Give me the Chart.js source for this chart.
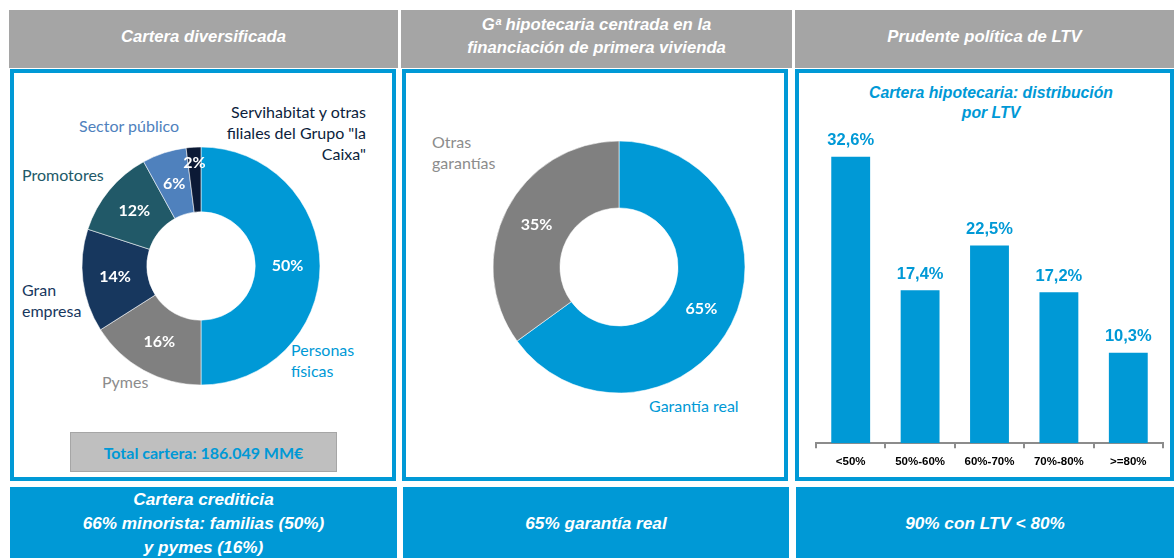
<!DOCTYPE html>
<html>
<head>
<meta charset="utf-8">
<script src="https://cdn.jsdelivr.net/npm/chart.js@4.4.1/dist/chart.umd.min.js"></script>
<style>
  html,body{margin:0;padding:0;background:#fff;}
  body{width:1174px;height:558px;position:relative;overflow:hidden;font-family:"Liberation Sans",Arial,sans-serif;}
  .hdr{position:absolute;top:10px;height:58px;background:#A5A5A5;color:#fff;font-weight:bold;font-style:italic;font-size:16.7px;display:flex;align-items:center;justify-content:center;text-align:center;line-height:23px;box-sizing:border-box;padding-bottom:6px;}
  .box{position:absolute;top:69px;height:412px;border:4px solid #0099D6;box-sizing:border-box;background:#fff;}
  .ftr{position:absolute;top:487px;height:71px;background:#0099D6;color:#fff;font-weight:bold;font-style:italic;font-size:17.2px;display:flex;align-items:center;justify-content:center;text-align:center;line-height:24px;}
  .lbl{position:absolute;font-family:Lato,"Open Sans",sans-serif;font-size:16px;line-height:21px;white-space:nowrap;}
  canvas{position:absolute;}
  .total{position:absolute;left:70px;top:432px;width:267px;height:40px;background:#BFBFBF;border:1px solid #A6A6A6;box-sizing:border-box;color:#0099D6;font-family:Lato,sans-serif;font-weight:bold;font-size:16px;display:flex;align-items:center;justify-content:center;}
  .btitle{position:absolute;left:841px;width:300px;top:83px;text-align:center;color:#0099D6;font-weight:bold;font-style:italic;font-size:15.8px;line-height:20px;}
</style>
</head>
<body>
<div class="hdr" style="left:9px;width:389px;">Cartera diversificada</div>
<div class="hdr" style="left:401px;width:391px;">Gª hipotecaria centrada en la<br>financiación de primera vivienda</div>
<div class="hdr" style="left:795px;width:379px;">Prudente política de LTV</div>

<div class="box" style="left:10px;width:386px;"></div>
<div class="box" style="left:402px;width:386px;"></div>
<div class="box" style="left:795px;width:379px;"></div>

<div class="ftr" style="left:10px;width:387px;">Cartera crediticia<br>66% minorista: familias (50%)<br>y pymes (16%)</div>
<div class="ftr" style="left:403px;width:386px;">65% garantía real</div>
<div class="ftr" style="left:796px;width:378px;">90% con LTV &lt; 80%</div>

<!-- outside labels, panel 1 -->
<div class="lbl" style="left:79px;top:115px;color:#4F81BD;">Sector público</div>
<div class="lbl" style="right:808px;top:101px;color:#0C1E3C;text-align:right;">Servihabitat y otras<br>filiales del Grupo "la<br>Caixa"</div>
<div class="lbl" style="left:22px;top:164px;color:#215968;">Promotores</div>
<div class="lbl" style="left:22px;top:279px;color:#17375E;">Gran<br>empresa</div>
<div class="lbl" style="left:102px;top:371px;color:#8C8C8C;">Pymes</div>
<div class="lbl" style="left:291px;top:339px;color:#0099D6;">Personas<br>físicas</div>
<!-- outside labels, panel 2 -->
<div class="lbl" style="left:432px;top:131px;color:#8C8C8C;">Otras<br>garantías</div>
<div class="lbl" style="left:649px;top:395px;color:#0099D6;">Garantía real</div>

<div class="total">Total cartera: 186.049 MM€</div>
<div class="btitle">Cartera hipotecaria: distribución<br>por LTV</div>

<canvas id="c1" width="260" height="260" style="left:71px;top:136px;"></canvas>
<canvas id="c2" width="270" height="270" style="left:484px;top:132px;"></canvas>
<canvas id="c3" width="379" height="360" style="left:795px;top:120px;"></canvas>

<script>
// ---- data ----
const portfolioCategories = ['Personas físicas','Pymes','Gran empresa','Promotores','Sector público','Servihabitat y otras filiales del Grupo "la Caixa"'];
const portfolioValues = [50, 16, 14, 12, 6, 2];
const guaranteeCategories = ['Garantía real','Otras garantías'];
const guaranteeValues = [65, 35];
const ltvCategories = ['<50%','50%-60%','60%-70%','70%-80%','>=80%'];
const ltvValues = [32.6, 17.4, 22.5, 17.2, 10.3];

// ---- styles ----
const BLUE = '#0099D6';
const portfolioColors = ['#0099D6','#808080','#17375E','#215968','#4F81BD','#0C1A36'];
const guaranteeColors = ['#0099D6','#808080'];

const arcLabels = {
  id: 'arcLabels',
  afterDatasetsDraw(chart, args, opts) {
    const ctx = chart.ctx;
    const meta = chart.getDatasetMeta(0);
    const data = chart.data.datasets[0].data;
    ctx.save();
    ctx.font = opts.font;
    ctx.fillStyle = opts.color;
    ctx.textAlign = 'center';
    ctx.textBaseline = 'middle';
    meta.data.forEach((arc, i) => {
      let p = arc.tooltipPosition();
      const rf = (opts.radial || {})[i];
      if (rf) {
        const ang = (arc.startAngle + arc.endAngle) / 2;
        const r = arc.outerRadius * rf;
        p = { x: arc.x + Math.cos(ang) * r, y: arc.y + Math.sin(ang) * r };
      }
      ctx.fillText(data[i] + '%', p.x, p.y);
    });
    ctx.restore();
  }
};

function doughnut(id, labels, values, colors, radius, cutout, radial) {
  return new Chart(document.getElementById(id), {
    type: 'doughnut',
    data: { labels, datasets: [{ data: values, backgroundColor: colors, borderColor: 'rgba(255,255,255,0.55)', borderWidth: 1, radius, cutout }] },
    options: {
      responsive: false, animation: false, events: [],
      plugins: { legend: { display: false }, tooltip: { enabled: false },
        arcLabels: { font: 'bold 16px Lato, "Open Sans", sans-serif', color: '#fff', radial } }
    },
    plugins: [arcLabels]
  });
}

doughnut('c1', portfolioCategories, portfolioValues, portfolioColors, 119, 59, { 5: 0.87 });
doughnut('c2', guaranteeCategories, guaranteeValues, guaranteeColors, 126, 63, {});

const barLabels = {
  id: 'barLabels',
  afterDatasetsDraw(chart, args, opts) {
    const ctx = chart.ctx;
    const meta = chart.getDatasetMeta(0);
    const data = chart.data.datasets[0].data;
    ctx.save();
    ctx.font = opts.font;
    ctx.fillStyle = opts.color;
    ctx.textAlign = 'center';
    ctx.textBaseline = 'middle';
    meta.data.forEach((bar, i) => {
      ctx.fillText(data[i].toFixed(1).replace('.', ',') + '%', bar.x, bar.y - opts.offset);
    });
    ctx.restore();
  }
};

new Chart(document.getElementById('c3'), {
  type: 'bar',
  data: { labels: ltvCategories, datasets: [{ data: ltvValues, backgroundColor: BLUE, barPercentage: 0.56, categoryPercentage: 1 }] },
  options: {
    responsive: false, animation: false, events: [],
    layout: { padding: { left: 21, right: 11, top: 7, bottom: 4 } },
    scales: {
      x: {
        grid: { drawOnChartArea: false, drawTicks: true, tickLength: 5, color: '#8C8C8C', lineWidth: 2, offset: true },
        border: { display: true, color: '#8C8C8C', width: 2 },
        ticks: { color: '#000', padding: 7, font: { family: '"Liberation Sans", Arial, sans-serif', weight: 'bold', size: 11.5 } }
      },
      y: { display: false, min: 0, max: 36 }
    },
    plugins: { legend: { display: false }, tooltip: { enabled: false },
      barLabels: { font: 'bold 16.5px "Liberation Sans", Arial, sans-serif', color: BLUE, offset: 16 } }
  },
  plugins: [barLabels]
});
</script>
</body>
</html>
